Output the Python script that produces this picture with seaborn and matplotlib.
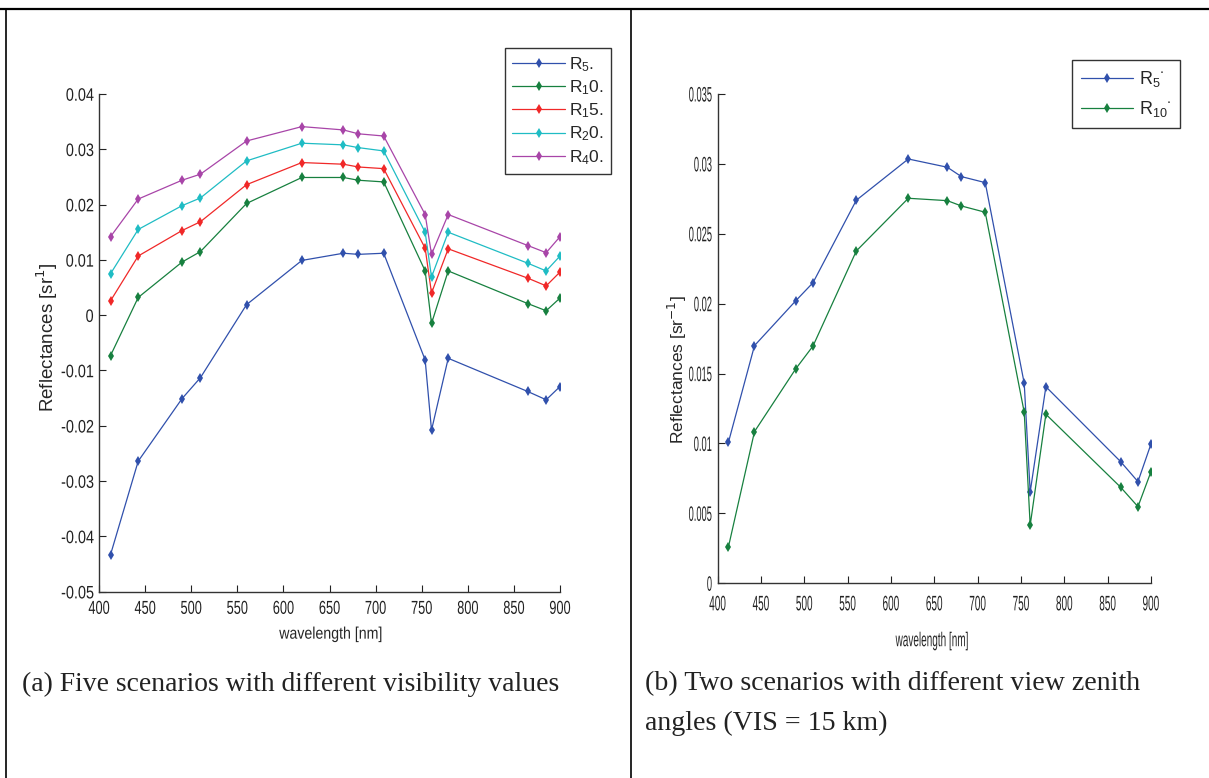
import numpy as np
import pandas as pd
import matplotlib
matplotlib.use("Agg")
import matplotlib.pyplot as plt
import seaborn as sns
from matplotlib import font_manager
from matplotlib.lines import Line2D
from matplotlib.patheffects import AbstractPathEffect
from matplotlib.transforms import Affine2D

# ---------------- data ----------------
wavelength = [412.5, 442.5, 490, 510, 560, 620, 665, 681.25, 708.75, 753.75, 760.625, 778.75, 865, 885, 900]

# panel (a): five visibility scenarios
r5_a = [-0.0433, -0.0264, -0.0151, -0.0113, 0.0019, 0.0099, 0.0112, 0.0110, 0.0112, -0.0081, -0.0208, -0.0078, -0.0138, -0.0153, -0.0129]
r10_a = [-0.0073, 0.0032, 0.0096, 0.0115, 0.0202, 0.0249, 0.0249, 0.0244, 0.0241, 0.0080, -0.0015, 0.0080, 0.0021, 0.0008, 0.0031]
r15_a = [0.0026, 0.0107, 0.0153, 0.0169, 0.0236, 0.0276, 0.0273, 0.0268, 0.0265, 0.0121, 0.0040, 0.0120, 0.0067, 0.0053, 0.0078]
r20_a = [0.0075, 0.0155, 0.0198, 0.0212, 0.0279, 0.0311, 0.0308, 0.0303, 0.0297, 0.0150, 0.0069, 0.0150, 0.0094, 0.0080, 0.0107]
r40_a = [0.0142, 0.0210, 0.0244, 0.0255, 0.0315, 0.0341, 0.0335, 0.0328, 0.0324, 0.0182, 0.0110, 0.0182, 0.0126, 0.0113, 0.0142]
labels_a = [r"$\mathregular{R_5}$.", r"$\mathregular{R_1}$0.", r"$\mathregular{R_1}$5.",
            r"$\mathregular{R_2}$0.", r"$\mathregular{R_4}$0."]

# panel (b): two view zenith angles
r5_b = [0.0101, 0.0170, 0.0202, 0.0215, 0.0274, 0.03035, 0.02976, 0.02909, 0.02866, 0.0143, 0.00653, 0.01406, 0.0087, 0.00727, 0.00996]
r10_b = [0.00262, 0.01085, 0.01533, 0.01697, 0.02377, 0.02754, 0.02737, 0.02699, 0.02654, 0.01223, 0.00415, 0.01209, 0.00687, 0.00548, 0.00798]
labels_b = [r"$\mathregular{R_5}$$^{\cdot}$", r"$\mathregular{R_{10}}$$^{\cdot}$"]

yticks_a = [-0.05, -0.04, -0.03, -0.02, -0.01, 0, 0.01, 0.02, 0.03, 0.04]
yticklabels_a = ["-0.05", "-0.04", "-0.03", "-0.02", "-0.01", "0", "0.01", "0.02", "0.03", "0.04"]
yticks_b = [0, 0.005, 0.01, 0.015, 0.02, 0.025, 0.03, 0.035]
yticklabels_b = ["0", "0.005", "0.01", "0.015", "0.02", "0.025", "0.03", "0.035"]
xticks = [400, 450, 500, 550, 600, 650, 700, 750, 800, 850, 900]

caption_a = "(a) Five scenarios with different visibility values"
caption_b1 = "(b) Two scenarios with different view zenith"
caption_b2 = "angles (VIS = 15 km)"

colors_a = ["#3050ac", "#17803f", "#f02828", "#1fbcc4", "#a845a8"]
colors_b = ["#3050ac", "#17803f"]


# vertical stretch of glyphs about their centre: with a small font size this
# gives the tall, condensed look of the reference's tick labels while the
# text's horizontal extent stays exact
class VScale(AbstractPathEffect):
    def __init__(self, sy):
        super().__init__()
        self.sy = sy

    def draw_path(self, renderer, gc, tpath, affine, rgbFace=None):
        ext = tpath.get_extents()
        cy = (ext.y0 + ext.y1) / 2
        t = Affine2D().translate(0, -cy).scale(1, self.sy).translate(0, cy) + affine
        renderer.draw_path(gc, tpath, t, rgbFace)


# ---------------- style ----------------
sns.set_style("white")
plt.rcParams["font.family"] = ["Liberation Sans", "DejaVu Sans"]
names = {f.name for f in font_manager.fontManager.ttflist}
serif = "Liberation Serif" if "Liberation Serif" in names else "DejaVu Serif"

fig = plt.figure(figsize=(12.09, 7.78), dpi=100)


def long_df(series, labels):
    rows = []
    for vals, lab in zip(series, labels):
        for w, v in zip(wavelength, vals):
            rows.append({"wavelength": w, "value": v, "series": lab})
    return pd.DataFrame(rows)


def style_axes(ax):
    for s in ["top", "right"]:
        ax.spines[s].set_visible(False)
    for s in ["left", "bottom"]:
        ax.spines[s].set_color("#333333")
        ax.spines[s].set_linewidth(1.0)
    ax.tick_params(direction="in", length=5, width=0.8, colors="#222222",
                   left=True, bottom=True)
    ax.set_xlim(400, 900)
    ax.set_xticks(xticks)


# ---- panel (a)
ax1 = fig.add_axes([0.0819, 0.2395, 0.3813, 0.6397])
df_a = long_df([r5_a, r10_a, r15_a, r20_a, r40_a], labels_a)
sns.lineplot(data=df_a, x="wavelength", y="value", hue="series", palette=colors_a,
             marker="d", markersize=5, markeredgewidth=0, linewidth=0.9,
             sort=False, ax=ax1, legend=True)
style_axes(ax1)
ax1.set_ylim(-0.05, 0.04)
ax1.set_yticks(yticks_a)
ax1.set_yticklabels(yticklabels_a)
ax1.tick_params(axis="y", labelsize=10.4, pad=4)
ax1.tick_params(axis="x", labelsize=9.2, pad=8)
for t in ax1.get_yticklabels():
    t.set_path_effects([VScale(1.25)])
for t in ax1.get_xticklabels():
    t.set_path_effects([VScale(1.47)])
ax1.set_xlabel("wavelength [nm]", fontsize=10.2)
ax1.xaxis.get_label().set_path_effects([VScale(1.18)])
ax1.xaxis.set_label_coords(0.503, -0.071)
ax1.set_ylabel(r"Reflectances [sr$^{1}$]", fontsize=13.5)
ax1.yaxis.set_label_coords(-0.084, 0.511)
leg1 = ax1.legend(loc="upper left", bbox_to_anchor=(0.881, 1.092), borderaxespad=0,
                  frameon=True, fancybox=False, edgecolor="black", fontsize=12.5,
                  handlelength=3.05, borderpad=0.4, labelspacing=0.26, handletextpad=0.25)
leg1.get_frame().set_linewidth(1.0)

# ---- panel (b)
ax2 = fig.add_axes([0.5936, 0.2503, 0.3584, 0.6289])
df_b = long_df([r5_b, r10_b], labels_b)
sns.lineplot(data=df_b, x="wavelength", y="value", hue="series", palette=colors_b,
             marker="d", markersize=5, markeredgewidth=0, linewidth=0.9,
             sort=False, ax=ax2, legend=True)
style_axes(ax2)
ax2.set_ylim(0, 0.035)
ax2.set_yticks(yticks_b)
ax2.set_yticklabels(yticklabels_b)
ax2.tick_params(axis="y", labelsize=6.7, pad=4)
ax2.tick_params(axis="x", labelsize=7.2, pad=11)
for t in ax2.get_yticklabels():
    t.set_path_effects([VScale(2.25)])
for t in ax2.get_xticklabels():
    t.set_path_effects([VScale(2.1)])
ax2.set_xlabel("wavelength [nm]", fontsize=7.2)
ax2.xaxis.get_label().set_path_effects([VScale(2.0)])
ax2.xaxis.set_label_coords(0.495, -0.107)
ax2.set_ylabel(r"Reflectances [sr$^{-1}$]", fontsize=12.5)
ax2.yaxis.set_label_coords(-0.067, 0.436)
leg2 = ax2.legend(loc="upper left", bbox_to_anchor=(0.818, 1.0695), borderaxespad=0,
                  frameon=True, fancybox=False, edgecolor="black", fontsize=13,
                  handlelength=2.9, borderpad=0.5, labelspacing=0.55, handletextpad=0.3)
leg2.get_frame().set_linewidth(1.0)

# ---------------- captions & table borders ----------------
fig.text(22 / 1209, 1 - 684 / 778, caption_a, fontsize=19.9, fontfamily=serif,
         va="center", ha="left", color="#222222")
fig.text(645 / 1209, 1 - 684 / 778, caption_b1, fontsize=20.1, fontfamily=serif,
         va="center", ha="left", color="#222222")
fig.text(645 / 1209, 1 - 723 / 778, caption_b2, fontsize=20.1, fontfamily=serif,
         va="center", ha="left", color="#222222")

ytop = 1 - 9 / 778
fig.add_artist(Line2D([0, 1], [ytop, ytop], color="black", lw=1.6, transform=fig.transFigure))
fig.add_artist(Line2D([6 / 1209, 6 / 1209], [0, ytop], color="black", lw=1.2, transform=fig.transFigure))
fig.add_artist(Line2D([631 / 1209, 631 / 1209], [0, ytop], color="black", lw=1.2, transform=fig.transFigure))

fig.savefig("out.png", dpi=100)
